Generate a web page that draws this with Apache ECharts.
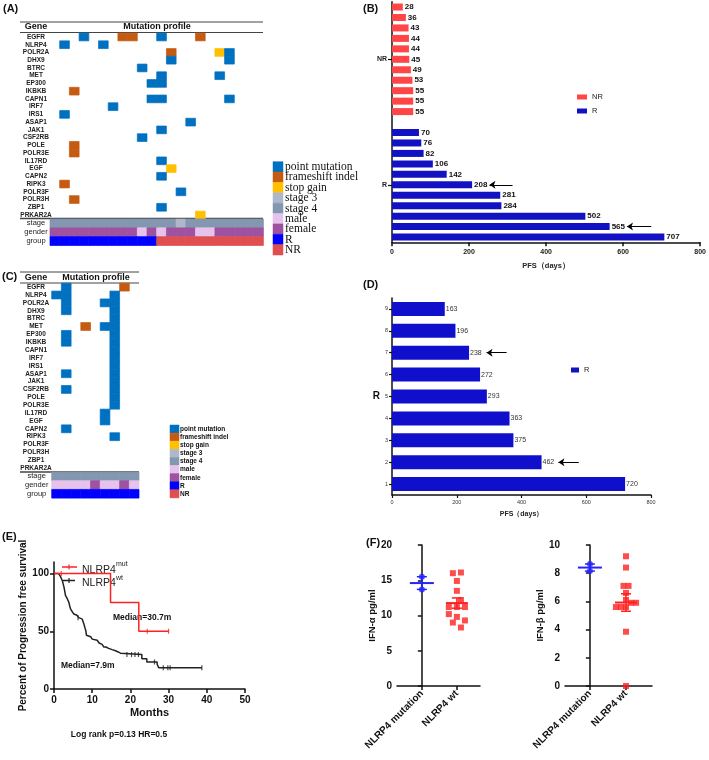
<!DOCTYPE html>
<html><head><meta charset="utf-8">
<script src="https://cdn.jsdelivr.net/npm/echarts@6/dist/echarts.min.js"></script>
<style>html,body{margin:0;padding:0;background:#fff}#c{width:709px;height:760px}</style>
</head><body><div id="c"></div>
<script>
// ---------------- DATA ----------------
const genes = ['EGFR','NLRP4','POLR2A','DHX9','BTRC','MET','EP300','IKBKB','CAPN1','IRF7','IRS1','ASAP1','JAK1','CSF2RB','POLE','POLR3E','IL17RD','EGF','CAPN2','RIPK3','POLR3F','POLR3H','ZBP1','PRKAR2A'];
const clinicalRows = ['stage','gender','group'];
const legendNames = ['point mutation','frameshift indel','stop gain','stage 3','stage 4','male','female','R','NR'];
const legendColors = ['#0070c0','#c55a11','#ffc000','#adb9ca','#8497b0','#e6c3ec','#9e529f','#0000ff','#e04f4f'];
// mutation: [gene, sample, typeIndex(0 point,1 frameshift,2 stop gain)]
const mutA = [
 ['EGFR',3,0],['EGFR',7,1],['EGFR',8,1],['EGFR',11,0],['EGFR',15,1],
 ['NLRP4',1,0],['NLRP4',5,0],
 ['POLR2A',12,1],['POLR2A',17,2],['POLR2A',18,0],
 ['DHX9',12,0],['DHX9',18,0],
 ['BTRC',9,0],
 ['MET',11,0],['MET',17,0],
 ['EP300',10,0],['EP300',11,0],
 ['IKBKB',2,1],
 ['CAPN1',10,0],['CAPN1',11,0],['CAPN1',18,0],
 ['IRF7',6,0],['IRS1',1,0],['ASAP1',14,0],['JAK1',11,0],['CSF2RB',9,0],
 ['POLE',2,1],['POLR3E',2,1],['IL17RD',11,0],['EGF',12,2],['CAPN2',11,0],
 ['RIPK3',1,1],['POLR3F',13,0],['POLR3H',2,1],['ZBP1',11,0],['PRKAR2A',15,2]
];
const stageA  = [4,4,4,4,4,4,4,4,4,4,4,4,4,3,4,4,4,4,4,4,4,4];
const genderA = ['female','female','female','female','female','female','female','female','female','male','female','male','female','female','female','male','male','female','female','female','female','female'];
const groupA  = ['R','R','R','R','R','R','R','R','R','R','R','NR','NR','NR','NR','NR','NR','NR','NR','NR','NR','NR'];
const mutC = [
 ['EGFR',1,0],['EGFR',7,1],
 ['NLRP4',0,0],['NLRP4',1,0],['NLRP4',6,0],
 ['POLR2A',1,0],['POLR2A',5,0],['POLR2A',6,0],
 ['DHX9',1,0],['DHX9',6,0],
 ['BTRC',6,0],
 ['MET',3,1],['MET',5,0],['MET',6,0],
 ['EP300',1,0],['EP300',6,0],
 ['IKBKB',1,0],['IKBKB',6,0],
 ['CAPN1',6,0],['IRF7',6,0],['IRS1',6,0],
 ['ASAP1',1,0],['ASAP1',6,0],['JAK1',6,0],
 ['CSF2RB',1,0],['CSF2RB',6,0],['POLE',6,0],['POLR3E',6,0],
 ['IL17RD',5,0],['EGF',5,0],['CAPN2',1,0],['RIPK3',6,0]
];
const stageC  = [4,4,4,4,4,4,4,4,4];
const genderC = ['male','male','male','male','female','male','male','female','male'];
const groupC  = ['R','R','R','R','R','R','R','R','R'];

// Panel B
const nrPFS = [28,36,43,44,44,45,49,53,55,55,55];
const rPFS  = [70,76,82,106,142,208,281,284,502,565,707];
// Panel D
const dCats = ['1','2','3','4','5','6','7','8','9'];
const dPFS  = [720,462,375,363,293,272,238,196,163];
// Panel E (months, % PFS)
const kmMut = [[0,100],[14.8,75],[22.2,50],[30,50]];
const kmMutCensor = [[1.9,100],[24.4,50],[30,50]];
const kmWt = [[0,100],[1.2,99],[1.6,98],[1.9,96],[2.2,93.6],[2.4,91],[2.6,88.4],[2.8,85],[3.0,81],[3.2,79.5],[3.5,78],[3.9,75],[4.1,72],[4.3,69.7],[4.5,68],[4.8,66.8],[5.2,65],[5.7,63.9],[6.0,63],[6.5,61.8],[7.0,60.5],[7.4,59.5],[7.8,56.6],[8.1,53],[8.3,50.9],[8.5,46.5],[9.0,45.3],[9.6,44.2],[10.0,43.2],[10.4,42.2],[11.3,40.8],[11.8,39.8],[12.2,38.7],[12.6,37.5],[13.0,36.4],[13.6,35.2],[14.3,34.1],[15.2,33.1],[16.1,32.1],[16.8,31],[17.4,29.8],[23.0,26.3],[24.3,23.4],[27.0,21.4],[27.4,18.5],[38.7,18.5]];
const kmWtCensor = [[6.3,61.8],[19.1,29.8],[20.3,29.8],[21.2,29.8],[22.1,29.8],[26.3,23.4],[28.6,18.5],[29.8,18.5],[30.4,18.5],[38.7,18.5]];
// Panel F
const fGroups = ['NLRP4 mutation','NLRP4 wt'];
const ifnAlphaMut = [15.5,13.7];
const ifnAlphaWt  = [16.0,16.1,14.9,13.5,12.2,11.2,11.2,11.2,10.2,9.8,9.3,9.0,8.3];
const ifnAlphaWtCol = [-1,1,0,0,1,-2,0,2,-2,0,2,-1,1];
const ifnBetaMut = [8.65,8.15];
const ifnBetaWt  = [9.2,8.4,7.1,7.1,6.6,6.1,5.9,5.9,5.6,5.6,5.6,3.85,0];
const ifnBetaWtCol = [0,0,-0.5,0.5,0,0,1,2,-2,-1,0,0,0];

// ---------------- BUILD ----------------
const FONT = 'Liberation Sans';
const colorIndexOf = v => ({3:3,4:4,male:5,female:6,R:7,NR:8})[v];
function mutCells(list){ return list.map(m => [m[1], genes.indexOf(m[0]), m[2]]); }
function clinCells(stage, gender, group){
  const out=[];
  stage.forEach((v,i)=>out.push([i,0,colorIndexOf(v)]));
  gender.forEach((v,i)=>out.push([i,1,colorIndexOf(v)]));
  group.forEach((v,i)=>out.push([i,2,colorIndexOf(v)]));
  return out;
}
function cellRender(params, api){
  const p = api.coord([api.value(0), api.value(1)]);
  const s = api.size([1,1]);
  const c = legendColors[api.value(2)];
  return {type:'rect', shape:{x:p[0]-s[0]/2, y:p[1]-s[1]/2, width:s[0], height:s[1]}, style:{fill:c, stroke:c, lineWidth:0.7}};
}
const sampleIdx = n => Array.from({length:n},(_,i)=>String(i));

function heatY(g, data, margin, fs, bold){
  return {type:'category', gridIndex:g, data:data, inverse:true, axisLine:{show:false}, axisTick:{show:false},
    axisLabel:{interval:0, fontSize:fs, fontWeight:bold?'bold':'normal', color:'#222', align:'center', margin:margin, fontFamily:FONT}};
}

const catsB = nrPFS.map((_,i)=>'NR'+(i+1)).concat(['gap']).concat(rPFS.map((_,i)=>'R'+(i+1)));
const nrData = nrPFS.concat(new Array(1+rPFS.length).fill(null));
const rData = new Array(nrPFS.length+1).fill(null).concat(rPFS);
const bLabelIdx = [5, nrPFS.length+1+5];

function meanSem(a){ const n=a.length, m=a.reduce((s,v)=>s+v,0)/n; const sd=Math.sqrt(a.reduce((s,v)=>s+(v-m)*(v-m),0)/(n-1)); return [m, sd/Math.sqrt(n)]; }
const BLUE='#2424ff', RED='#ff2020';
function meanRender(params, api){
  const x=api.value(0), m=api.value(1), e=api.value(2), ci=api.value(3);
  const col = ci===0?BLUE:RED;
  const c=api.coord([x,m]), t=api.coord([x,m+e]), b=api.coord([x,m-e]);
  const hw = ci===0?12:11, cw=5;
  return {type:'group', children:[
    {type:'line', shape:{x1:c[0]-hw,y1:c[1],x2:c[0]+hw,y2:c[1]}, style:{stroke:col,lineWidth:2}},
    {type:'line', shape:{x1:t[0],y1:t[1],x2:b[0],y2:b[1]}, style:{stroke:col,lineWidth:1.5}},
    {type:'line', shape:{x1:t[0]-cw,y1:t[1],x2:t[0]+cw,y2:t[1]}, style:{stroke:col,lineWidth:1.5}},
    {type:'line', shape:{x1:b[0]-cw,y1:b[1],x2:b[0]+cw,y2:b[1]}, style:{stroke:col,lineWidth:1.5}}
  ]};
}
function fSeries(g, mut, wt, wtCol, step){
  const ms = meanSem(mut), ws = meanSem(wt);
  return [
    {type:'scatter', xAxisIndex:g, yAxisIndex:g, symbol:'circle', symbolSize:6, itemStyle:{color:BLUE}, data: mut.map(v=>[0,v]), z:3},
    {type:'scatter', xAxisIndex:g, yAxisIndex:g, symbol:'rect', symbolSize:6, itemStyle:{color:RED}, data: wt.map((v,i)=>[1+wtCol[i]*step, v]), z:3},
    {type:'custom', xAxisIndex:g, yAxisIndex:g, renderItem:meanRender, encode:{x:0,y:1}, data:[[0,ms[0],ms[1],0],[1,ws[0],ws[1],1]], z:4}
  ];
}
const blackAxis = {lineStyle:{color:'#111', width:1.5}};
function fX(g, min, max){
  return {type:'value', gridIndex:g, min:min, max:max, axisLine:blackAxis, splitLine:{show:false},
    axisTick:{customValues:[0,1], length:4, lineStyle:{color:'#111',width:1.5}},
    axisLabel:{customValues:[0,1], formatter:v=>fGroups[Math.round(v)]||'', rotate:45, fontSize:10, fontWeight:'bold', color:'#111', margin:6, fontFamily:FONT}};
}
function fY(g, max, interval, name){
  return {type:'value', gridIndex:g, min:0, max:max, interval:interval, axisLine:{show:true,...blackAxis}, splitLine:{show:false},
    axisTick:{show:true, length:4, lineStyle:{color:'#111',width:1.5}},
    axisLabel:{fontSize:10, fontWeight:'bold', color:'#111', margin:5, fontFamily:FONT},
    name:name, nameLocation:'middle', nameGap:20, nameTextStyle:{fontSize:9.5, fontWeight:'bold', color:'#111', fontFamily:FONT}};
}

// graphics
const G = [];
function T(text, x, y, size, opts){
  opts = opts||{};
  G.push({type:'text', x:x, y:y, silent:true, style:{text:text, font:(opts.bold===false?'':'bold ')+size+'px '+(opts.family||FONT), fill:opts.fill||'#111', textAlign:opts.align||'left', textVerticalAlign:'middle'}});
}
function L(x1,y1,x2,y2,w,c){ G.push({type:'line', silent:true, shape:{x1,y1,x2,y2}, style:{stroke:c||'#444', lineWidth:w||1}}); }
function R(x,y,w,h,c){ G.push({type:'rect', silent:true, shape:{x,y,width:w,height:h}, style:{fill:c, stroke:c, lineWidth:0.5}}); }

T('(A)',3,9,11); T('(B)',363,9,11); T('(C)',2,277,11); T('(D)',363,285,11); T('(E)',2,537,11); T('(F)',366,543,11);
// A header
L(20,22,263,22,1); L(20,32.5,263,32.5,1); L(20,218.5,263,218.5,1.5);
T('Gene',36,27,9,{align:'center'}); T('Mutation profile',157,27,9,{align:'center'});
// C header
L(20,272,139,272,1); L(20,283,139,283,1); L(20,472,139,472,1.5);
T('Gene',36,278,9,{align:'center'}); T('Mutation profile',96,278,9,{align:'center'});
// Legends A and C
legendNames.forEach((n,i)=>{
  R(273,161.7+i*10.37,10,10.37,legendColors[i]);
  T(n,285,161.7+i*10.37+5.4,11.5,{bold:false,family:'Liberation Serif'});
  R(170,425+i*8.1,9,8.1,legendColors[i]);
  T(n,180,425+i*8.1+4.2,6.5,{});
});
// E legend
L(62,567,77,567,1.5,'#ff2020'); L(69,564.5,69,569.5,1.2,'#ff2020');
T('NLRP4',82,570,10.5,{bold:false,fill:'#222'}); T('mut',116,564,7,{bold:false,fill:'#222'});
L(63,580.5,75,580.5,1.5,'#222'); L(69,578,69,583,1.2,'#222');
T('NLRP4',82,583,10.5,{bold:false,fill:'#222'}); T('wt',116,578,7,{bold:false,fill:'#222'});
T('Median=30.7m',113,618,8.5); T('Median=7.9m',61,666,8.5); T('Log rank p=0.13 HR=0.5',119,735,8.5,{align:'center'});

const option = {
  animation:false,
  textStyle:{fontFamily:FONT},
  legend:[
    {data:['NR','R'], left:572, top:88, orient:'vertical', itemWidth:10, itemHeight:5, itemGap:6, icon:'rect', textStyle:{fontSize:7.5,color:'#222'}, selectedMode:false},
    {data:['R'], left:566, top:361, itemWidth:8, itemHeight:5, icon:'rect', textStyle:{fontSize:7.5,color:'#222'}, selectedMode:false}
  ],
  grid:[
    {left:50, top:33.1, width:213.4, height:185.8},
    {left:50, top:219, width:213.4, height:26.5},
    {left:51.7, top:283.2, width:87.3, height:188.9},
    {left:51.7, top:472.1, width:87.3, height:26},
    {left:392, top:1.8, width:310, height:240.5},
    {left:392, top:298, width:259, height:197},
    {left:54, top:562, width:191, height:127},
    {left:397, top:545, width:83, height:141},
    {left:565, top:545, width:87, height:141}
  ],
  xAxis:[
    {type:'category', gridIndex:0, data:sampleIdx(22), show:false},
    {type:'category', gridIndex:1, data:sampleIdx(22), show:false},
    {type:'category', gridIndex:2, data:sampleIdx(9), show:false},
    {type:'category', gridIndex:3, data:sampleIdx(9), show:false},
    {type:'value', gridIndex:4, min:0, max:800, interval:200, axisLine:{show:true,...blackAxis}, splitLine:{show:false},
      axisTick:{show:true,length:4,lineStyle:{color:'#111',width:1.5}}, axisLabel:{fontSize:7,fontWeight:'bold',color:'#222',margin:6},
      name:'PFS（days）', nameLocation:'middle', nameGap:20, nameTextStyle:{fontSize:7.5,fontWeight:'bold',color:'#222'}},
    {type:'value', gridIndex:5, min:0, max:800, interval:200, axisLine:{show:true,...blackAxis}, splitLine:{show:false},
      axisTick:{show:true,length:3,lineStyle:{color:'#111',width:1.2}}, axisLabel:{fontSize:5.5,color:'#333',margin:4},
      name:'PFS（days）', nameLocation:'middle', nameGap:16, nameTextStyle:{fontSize:7,fontWeight:'bold',color:'#222'}},
    {type:'value', gridIndex:6, min:0, max:50, interval:10, axisLine:{show:true,...blackAxis}, splitLine:{show:false},
      axisTick:{show:true,length:4,lineStyle:{color:'#111',width:1.5}}, axisLabel:{fontSize:10,fontWeight:'bold',color:'#111',margin:6},
      name:'Months', nameLocation:'middle', nameGap:18, nameTextStyle:{fontSize:11,fontWeight:'bold',color:'#111'}},
    fX(7,-0.71,1.66),
    fX(8,-0.69,1.72)
  ],
  yAxis:[
    heatY(0, genes, 14, 6.5, true),
    heatY(1, clinicalRows, 14, 7.5, false),
    heatY(2, genes, 15.7, 6.5, true),
    heatY(3, clinicalRows, 15, 7.5, false),
    {type:'category', gridIndex:4, data:catsB, inverse:true, axisLine:{show:true,...blackAxis},
      axisTick:{show:true, alignWithLabel:true, length:4, interval:(i)=>bLabelIdx.includes(i), lineStyle:{color:'#111',width:1.2}},
      axisLabel:{interval:(i)=>bLabelIdx.includes(i), formatter:v=>v.replace(/\d+$/,''), fontSize:7, fontWeight:'bold', color:'#222', margin:5}},
    {type:'category', gridIndex:5, data:dCats, axisLine:{show:true,...blackAxis},
      axisTick:{show:true, alignWithLabel:true, length:3, lineStyle:{color:'#111',width:1.2}},
      axisLabel:{interval:0, fontSize:5.5, color:'#333', margin:4},
      name:'R', nameLocation:'middle', nameRotate:0, nameGap:12, nameTextStyle:{fontSize:10,fontWeight:'bold',color:'#111'}},
    {type:'value', gridIndex:6, min:0, max:110, interval:50, axisLine:{show:true,...blackAxis}, splitLine:{show:false},
      axisTick:{show:true,length:4,customValues:[0,50,100],lineStyle:{color:'#111',width:1.5}},
      axisLabel:{customValues:[0,50,100], formatter:v=>(v>100?'':v), fontSize:10,fontWeight:'bold',color:'#111',margin:5},
      name:'Percent of Progression free survival', nameLocation:'middle', nameGap:26, nameTextStyle:{fontSize:10,fontWeight:'bold',color:'#111'}},
    fY(7,20,5,'IFN-α pg/ml'),
    fY(8,10,2,'IFN-β pg/ml')
  ],
  series:[
    {type:'custom', xAxisIndex:0, yAxisIndex:0, renderItem:cellRender, encode:{x:0,y:1}, data:mutCells(mutA), silent:true},
    {type:'custom', xAxisIndex:1, yAxisIndex:1, renderItem:cellRender, encode:{x:0,y:1}, data:clinCells(stageA,genderA,groupA), silent:true},
    {type:'custom', xAxisIndex:2, yAxisIndex:2, renderItem:cellRender, encode:{x:0,y:1}, data:mutCells(mutC), silent:true},
    {type:'custom', xAxisIndex:3, yAxisIndex:3, renderItem:cellRender, encode:{x:0,y:1}, data:clinCells(stageC,genderC,groupC), silent:true},
    {type:'bar', name:'NR', xAxisIndex:4, yAxisIndex:4, data:nrData, stack:'b', barWidth:7, itemStyle:{color:'#ff4545'},
      label:{show:true, position:'right', distance:2, fontSize:8, fontWeight:'bold', color:'#111'}},
    {type:'bar', name:'R', xAxisIndex:4, yAxisIndex:4, data:rData, stack:'b', barWidth:7, itemStyle:{color:'#1212c2'},
      label:{show:true, position:'right', distance:2, fontSize:8, fontWeight:'bold', color:'#111'},
      markLine:{silent:true, symbol:['none','arrow'], symbolSize:6, label:{show:false}, lineStyle:{color:'#000',width:1,type:'solid'},
        data:[[{coord:[313,'R6']},{coord:[253,'R6']}],[{coord:[673,'R10']},{coord:[610,'R10']}]]}},
    {type:'bar', name:'R', xAxisIndex:5, yAxisIndex:5, data:dPFS, barWidth:14, clip:false, itemStyle:{color:'#1010cc'},
      label:{show:true, position:'right', distance:1, fontSize:7, color:'#333'},
      markLine:{silent:true, symbol:['none','arrow'], symbolSize:6, label:{show:false}, lineStyle:{color:'#000',width:1,type:'solid'},
        data:[[{coord:[354,'7']},{coord:[292,'7']}],[{coord:[577,'2']},{coord:[514,'2']}],[{coord:[825,'1']},{coord:[763,'1']}]]}},
    {type:'line', xAxisIndex:6, yAxisIndex:6, data:kmMut, step:'end', showSymbol:false, lineStyle:{color:'#ff2020',width:1.5}, itemStyle:{color:'#ff2020'}, z:3},
    {type:'line', xAxisIndex:6, yAxisIndex:6, data:kmWt, step:'end', showSymbol:false, lineStyle:{color:'#222',width:1.5}, itemStyle:{color:'#222'}, z:2},
    {type:'scatter', xAxisIndex:6, yAxisIndex:6, data:kmMutCensor, symbol:'rect', symbolSize:[1.2,5], itemStyle:{color:'#ff2020'}, z:3},
    {type:'scatter', xAxisIndex:6, yAxisIndex:6, data:kmWtCensor, symbol:'rect', symbolSize:[1.2,5], itemStyle:{color:'#222'}, z:2},
    ...fSeries(7, ifnAlphaMut, ifnAlphaWt, ifnAlphaWtCol, 0.115),
    ...fSeries(8, ifnBetaMut, ifnBetaWt, ifnBetaWtCol, 0.14)
  ],
  graphic: G
};
const chart = echarts.init(document.getElementById('c'));
chart.setOption(option);
</script>
</body></html>
